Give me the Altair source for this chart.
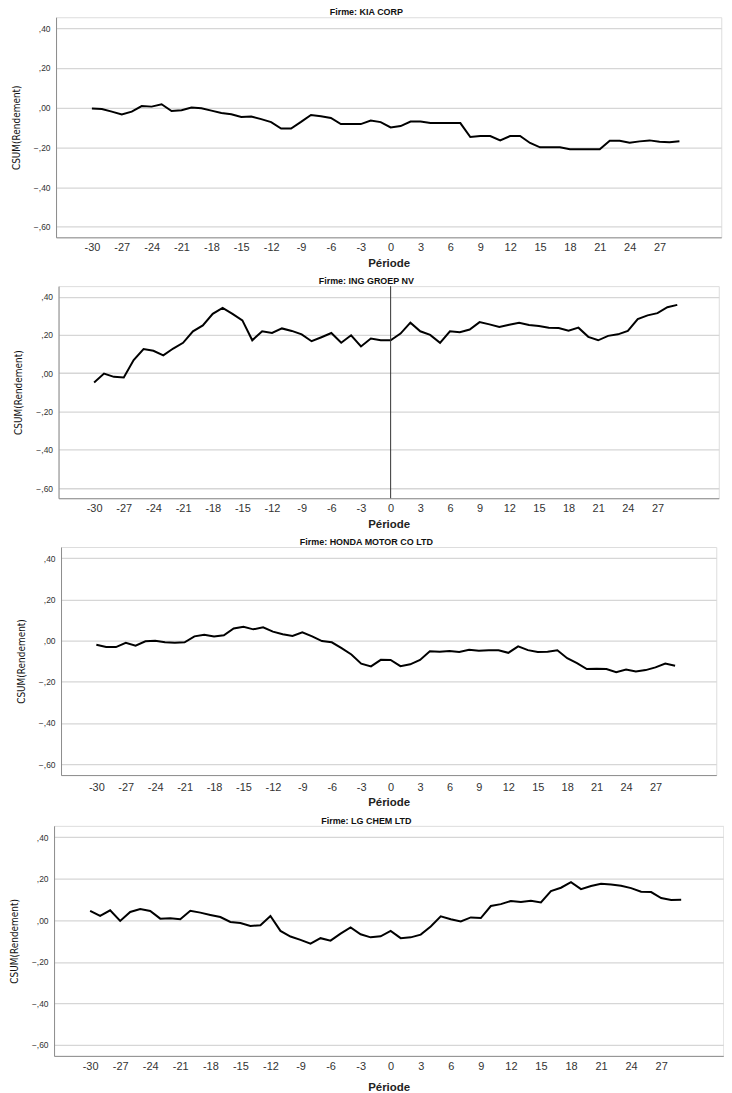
import altair as alt
import pandas as pd

periode = list(range(-30, 30))

firmes = ["KIA CORP", "ING GROEP NV", "HONDA MOTOR CO LTD", "LG CHEM LTD"]

kia = [-0.005, -0.007, -0.020, -0.035, -0.020, 0.008, 0.005, 0.017, -0.017, -0.013,
       0.000, -0.003, -0.015, -0.027, -0.033, -0.047, -0.045, -0.058, -0.073, -0.105,
       -0.105, -0.072, -0.037, -0.043, -0.052, -0.083, -0.083, -0.083, -0.065, -0.073,
       -0.100, -0.093, -0.070, -0.070, -0.078, -0.078, -0.078, -0.078, -0.148, -0.143,
       -0.143, -0.165, -0.143, -0.143, -0.178, -0.200, -0.200, -0.200, -0.210, -0.210,
       -0.210, -0.210, -0.167, -0.167, -0.177, -0.170, -0.165, -0.172, -0.174, -0.169]

ing = [-0.048, -0.002, -0.019, -0.022, 0.069, 0.126, 0.117, 0.093, 0.129, 0.159,
       0.219, 0.250, 0.310, 0.341, 0.310, 0.276, 0.172, 0.219, 0.210, 0.234,
       0.221, 0.203, 0.167, 0.188, 0.210, 0.159, 0.198, 0.140, 0.181, 0.172,
       0.172, 0.207, 0.264, 0.219, 0.200, 0.159, 0.219, 0.214, 0.228, 0.267,
       0.255, 0.241, 0.253, 0.264, 0.252, 0.247, 0.238, 0.236, 0.222, 0.238,
       0.190, 0.172, 0.195, 0.203, 0.221, 0.283, 0.302, 0.314, 0.345, 0.357]

honda = [-0.020, -0.031, -0.031, -0.010, -0.024, -0.003, 0.000, -0.008, -0.010, -0.008,
         0.021, 0.029, 0.020, 0.026, 0.059, 0.068, 0.055, 0.065, 0.044, 0.031,
         0.023, 0.041, 0.021, -0.002, -0.008, -0.036, -0.067, -0.112, -0.125, -0.093,
         -0.094, -0.124, -0.115, -0.094, -0.052, -0.054, -0.050, -0.055, -0.044, -0.049,
         -0.046, -0.047, -0.059, -0.028, -0.046, -0.055, -0.054, -0.047, -0.085, -0.109,
         -0.138, -0.137, -0.138, -0.153, -0.140, -0.150, -0.143, -0.130, -0.111, -0.122]

lgchem = [0.046, 0.021, 0.048, -0.003, 0.040, 0.054, 0.045, 0.008, 0.010, 0.005,
          0.046, 0.037, 0.026, 0.016, -0.008, -0.013, -0.027, -0.024, 0.021, -0.051,
          -0.078, -0.094, -0.112, -0.086, -0.098, -0.064, -0.034, -0.067, -0.082, -0.077,
          -0.051, -0.086, -0.082, -0.069, -0.030, 0.019, 0.005, -0.005, 0.014, 0.011,
          0.069, 0.078, 0.093, 0.088, 0.094, 0.086, 0.141, 0.157, 0.184, 0.150,
          0.165, 0.176, 0.173, 0.166, 0.155, 0.138, 0.136, 0.107, 0.098, 0.099]

x_ticks = [-30, -27, -24, -21, -18, -15, -12, -9, -6, -3, 0, 3, 6, 9, 12, 15, 18, 21, 24, 27]
y_ticks = [0.4, 0.2, 0.0, -0.2, -0.4, -0.6]
event_line = [0]

FONT = "Liberation Sans, Arial, sans-serif"
NARROW = "Liberation Sans Narrow, DejaVu Sans Condensed, Arial Narrow, Liberation Sans, sans-serif"


def panel(name, values, w, h, lab_pad, tit_pad, ref=False):
    df = pd.DataFrame({"Période": periode, "CSUM": values})
    x = alt.X(
        "Période:Q",
        scale=alt.Scale(domain=[-33.6, 33.2], nice=False, zero=False),
        axis=alt.Axis(
            values=x_ticks, labelExpr="datum.value + ''", title="Période",
            grid=False, ticks=False, labelPadding=lab_pad, labelFontSize=11,
            labelOverlap=False, labelBound=False,
            labelColor="#333333", labelFont=FONT, titleFont=FONT,
            titleFontSize=11.5, titleFontWeight="bold", titleColor="#222222",
            titlePadding=tit_pad, domainColor="#8c8c8c", domainWidth=1, labelFlush=False,
        ),
    )
    y = alt.Y(
        "CSUM:Q",
        scale=alt.Scale(domain=[-0.653, 0.455], nice=False, zero=False),
        axis=alt.Axis(
            values=y_ticks, labelExpr="replace(format(datum.value,'.2f'),'0.',',')",
            title="CSUM(Rendement)", grid=True, gridColor="#d6d6d6", gridWidth=1.3,
            ticks=False, labelPadding=6, labelFontSize=8.5, labelColor="#333333",
            labelOverlap=False, labelFont=FONT, titleFont=NARROW, titleFontSize=10,
            titleFontWeight="normal", titleColor="#111111", titlePadding=12,
            domainColor="#8c8c8c", domainWidth=1, labelFlush=False,
        ),
    )
    line = alt.Chart(df).mark_line(color="black", strokeWidth=2).encode(x=x, y=y)
    layers = [line]
    if ref:
        rdf = pd.DataFrame({"Période": event_line})
        rule = alt.Chart(rdf).mark_rule(color="#333333", strokeWidth=1).encode(x=x)
        layers.append(rule)
    return alt.layer(*layers).properties(
        width=w, height=h,
        title=alt.Title("Firme: " + name, fontSize=9, fontWeight="bold", font=FONT,
                        color="#111111", offset=0, frame="bounds", anchor="middle"),
    )


p1 = panel(firmes[0], kia, 668, 221, 4, 5)
p2 = panel(firmes[1], ing, 663, 213, 4, 5, ref=True)
p3 = panel(firmes[2], honda, 658, 229, 6, 5)
p4 = panel(firmes[3], lgchem, 672, 231, 5, 10)

chart = alt.vconcat(p1, p2, p3, p4, spacing=7, center=True).properties(
    padding={"left": 0, "top": -3, "right": 0, "bottom": 0}
).configure_view(stroke=None).configure(background="white")

chart.save("out.html", embed_options={"renderer": "svg", "actions": False})
